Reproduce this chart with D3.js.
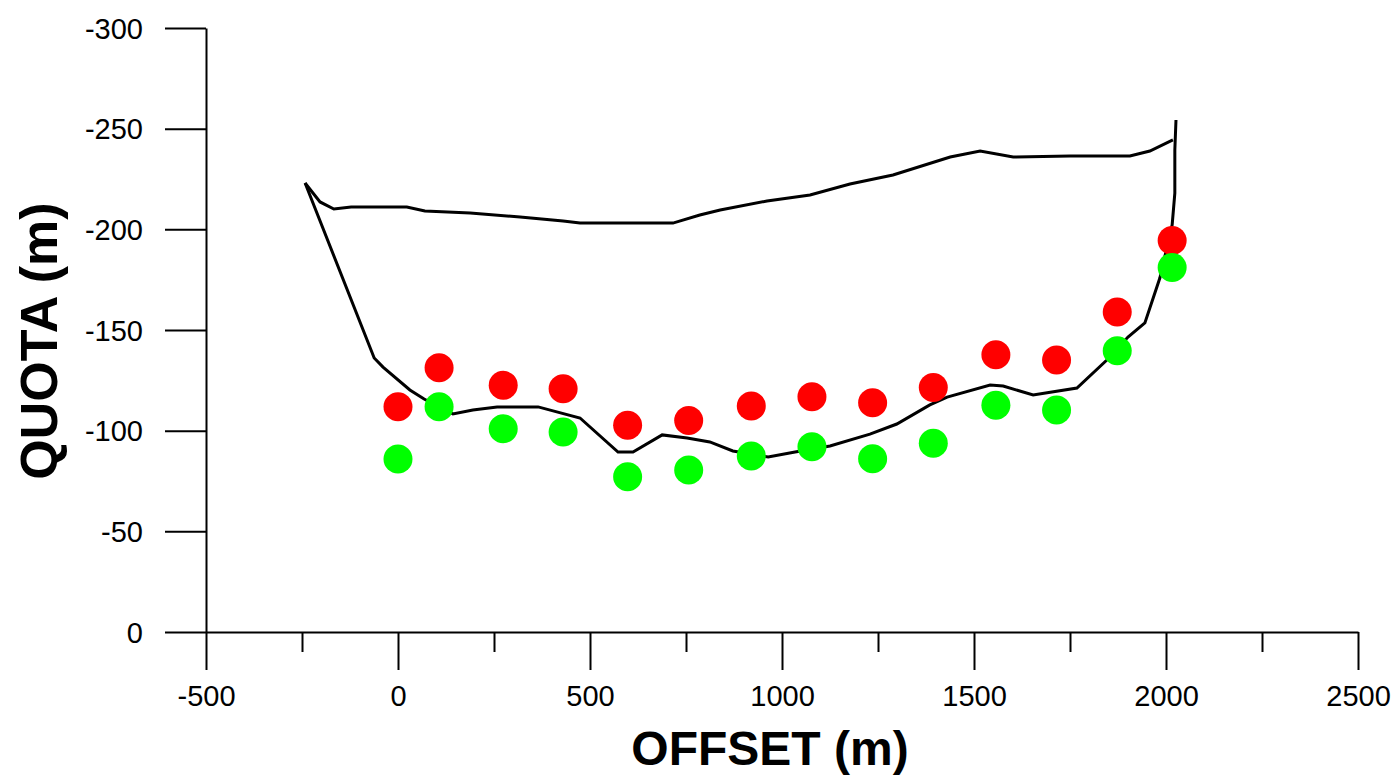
<!DOCTYPE html>
<html>
<head>
<meta charset="utf-8">
<script src="https://cdn.jsdelivr.net/npm/d3@7"></script>
<style>
  html, body { margin: 0; padding: 0; background: #fff; }
  svg { display: block; }
  text { font-family: "Liberation Sans", Arial, sans-serif; }
</style>
</head>
<body>
<svg id="chart" width="1399" height="780"></svg>
<script>
// ---- data ----
const offsets    = [0, 107, 274, 430, 598, 757, 920, 1078, 1236, 1394, 1557, 1715, 1873, 2016];
const redQuota   = [-111.9, -131.3, -122.5, -120.8, -102.7, -105, -112.3, -116.9, -113.9, -121.5, -137.7, -135.1, -158.9, -194.4];
const greenQuota = [-85.9, -111.9, -101, -99.3, -77.1, -80.5, -87.4, -92, -86.1, -93.7, -112.6, -110.3, -139.7, -181.1];

const surfX = [-242, -203, -167, -122, 23, 70, 188, 318, 430, 474, 716, 786, 839, 961, 1073, 1177, 1289, 1438, 1516, 1602, 1750, 1906, 1958, 2018];
const surfY = [-223, -213.6, -210.1, -211.1, -211.1, -209.1, -208.1, -206.1, -204.1, -203.1, -203.1, -207.1, -209.6, -214.1, -217.1, -222.5, -227, -235.9, -238.9, -235.9, -236.4, -236.4, -238.9, -244.4];

const bedX = [-242, -62, -39, 31, 68, 143, 195, 258, 344, 365, 474, 573, 612, 688, 753, 812, 872, 964, 1034, 1125, 1229, 1299, 1385, 1430, 1542, 1576, 1654, 1768, 1846, 1901, 1945, 1984, 2016, 2023, 2023, 2026];
const bedY = [-223, -136.1, -131.6, -120.2, -115.7, -108.3, -110.3, -111.8, -111.8, -111.8, -106.3, -89.4, -89.4, -97.9, -96.4, -94.4, -89.9, -86.9, -89.4, -92.4, -98.3, -103.3, -112.8, -116.7, -122.7, -122.2, -117.7, -121.2, -135.1, -146.5, -153.5, -175.8, -202.2, -218, -239.4, -254.3];

const xMajorTicks = [-500, 0, 500, 1000, 1500, 2000, 2500];
const xMinorTicks = [-250, 250, 750, 1250, 1750, 2250];
const yTicks = [0, -50, -100, -150, -200, -250, -300];
const xTitle = "OFFSET (m)";
const yTitle = "QUOTA (m)";

// ---- scales ----
const svg = d3.select("#chart");
const x = d3.scaleLinear().domain([-500, 2500]).range([206, 1358]);
const y = d3.scaleLinear().domain([0, -300]).range([632, 28]);

// ---- axes ----
const fontSize = 29;
const fmt = d => String(d);
const xAxis = svg.append("g").attr("transform", `translate(0,${y(0)})`)
  .call(d3.axisBottom(x).tickValues(xMajorTicks).tickSize(38).tickSizeOuter(0).tickPadding(10).tickFormat(fmt));
const xMinor = svg.append("g").attr("transform", `translate(0,${y(0)})`)
  .call(d3.axisBottom(x).tickValues(xMinorTicks).tickSize(20).tickSizeOuter(0).tickFormat(""));
xMinor.select(".domain").remove();

const yAxis = svg.append("g").attr("transform", `translate(${x(-500)},0)`)
  .call(d3.axisLeft(y).tickValues(yTicks).tickSize(41).tickSizeOuter(0).tickPadding(22).tickFormat(fmt));

svg.selectAll(".domain, .tick line").attr("stroke", "#000").attr("stroke-width", 2);
svg.selectAll(".tick text")
  .attr("font-family", "'Liberation Sans', Arial, sans-serif")
  .attr("font-size", fontSize)
  .attr("fill", "#000");
xAxis.selectAll(".tick text").attr("dy", "0.9em");
yAxis.selectAll(".tick text").attr("dy", "0.35em");

// ---- titles ----
svg.append("text")
  .attr("x", 770).attr("y", 765)
  .attr("text-anchor", "middle")
  .attr("font-size", 48).attr("font-weight", "bold")
  .text(xTitle);
svg.append("text")
  .attr("transform", `translate(57,341) rotate(-90)`)
  .attr("text-anchor", "middle")
  .attr("font-size", 52).attr("font-weight", "bold")
  .text(yTitle);

// ---- lines ----
const line = d3.line().x(d => x(d[0])).y(d => y(d[1]));
svg.append("path")
  .datum(surfX.map((v, i) => [v, surfY[i]]))
  .attr("d", line).attr("fill", "none").attr("stroke", "#000").attr("stroke-width", 3);
svg.append("path")
  .datum(bedX.map((v, i) => [v, bedY[i]]))
  .attr("d", line).attr("fill", "none").attr("stroke", "#000").attr("stroke-width", 3);

// ---- points ----
svg.append("g").selectAll("circle")
  .data(offsets.map((v, i) => [v, redQuota[i]]))
  .join("circle")
  .attr("cx", d => x(d[0])).attr("cy", d => y(d[1])).attr("r", 14.5)
  .attr("fill", "#ff0000");
svg.append("g").selectAll("circle")
  .data(offsets.map((v, i) => [v, greenQuota[i]]))
  .join("circle")
  .attr("cx", d => x(d[0])).attr("cy", d => y(d[1])).attr("r", 14.5)
  .attr("fill", "#00ff00");
</script>
</body>
</html>
